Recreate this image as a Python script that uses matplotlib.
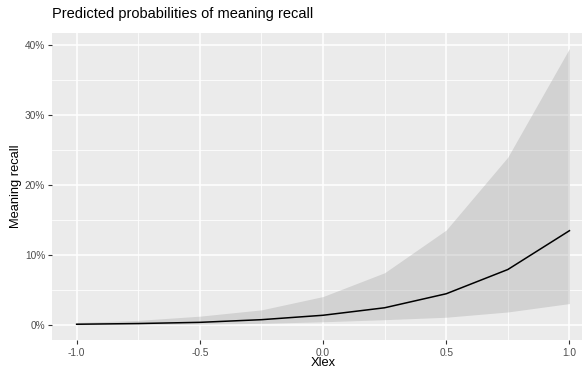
import matplotlib
matplotlib.use("Agg")
import matplotlib.pyplot as plt
from matplotlib.ticker import FixedLocator

xlex = [-1.0, -0.75, -0.5, -0.25, 0.0, 0.25, 0.5, 0.75, 1.0]
pred = [0.15, 0.25, 0.42, 0.8, 1.43, 2.5, 4.5, 7.96, 13.5]
upper = [0.4, 0.7, 1.3, 2.2, 4.1, 7.5, 13.6, 24.0, 39.5]
lower = [0.04, 0.08, 0.15, 0.28, 0.5, 0.8, 1.15, 1.9, 3.1]

x_major = [-1.0, -0.5, 0.0, 0.5, 1.0]
x_labels = ["-1.0", "-0.5", "0.0", "0.5", "1.0"]
x_minor = [-0.75, -0.25, 0.25, 0.75]
y_major = [0, 10, 20, 30, 40]
y_labels = ["0%", "10%", "20%", "30%", "40%"]
y_minor = [5, 15, 25, 35]

plt.rcParams['font.family'] = ['Liberation Sans', 'DejaVu Sans']

W, H = 582, 368
fig = plt.figure(figsize=(W / 100, H / 100), dpi=100)
ax = fig.add_axes([52 / W, (H - 340) / H, (W - 52) / W, (340 - 33.3) / H])
ax.set_facecolor('#EBEBEB')
for s in ax.spines.values():
    s.set_visible(False)

ax.set_xlim(-1.1, 1.051)
ax.set_ylim(-2.1, 41.67)

ax.xaxis.set_major_locator(FixedLocator(x_major))
ax.set_xticklabels(x_labels)
ax.xaxis.set_minor_locator(FixedLocator(x_minor))
ax.yaxis.set_major_locator(FixedLocator(y_major))
ax.set_yticklabels(y_labels)
ax.yaxis.set_minor_locator(FixedLocator(y_minor))

ax.grid(which='major', color='white', linewidth=1.1)
ax.grid(which='minor', color='white', linewidth=0.55)
ax.set_axisbelow(True)
ax.tick_params(which='major', length=3, width=0.8, color='#333333',
               labelcolor='#4D4D4D', labelsize=7.3, pad=2)
ax.tick_params(axis='x', which='major', pad=3)
ax.tick_params(which='minor', length=0)

ax.fill_between(xlex, lower, upper, color='#999999', alpha=0.3, linewidth=0, zorder=2)
ax.plot(xlex, pred, color='black', linewidth=1.1, zorder=3)

fig.text(323 / W, 1 - 363 / H, 'Xlex', fontsize=9.3, ha='center', va='center')
fig.text(16.5 / W, 1 - 186 / H, 'Meaning recall', fontsize=9.3, ha='center',
         va='center', rotation=90)
fig.text(52 / W, 1 - 14 / H, 'Predicted probabilities of meaning recall',
         fontsize=10.5, ha='left', va='center')

fig.savefig('out.png', dpi=100)
